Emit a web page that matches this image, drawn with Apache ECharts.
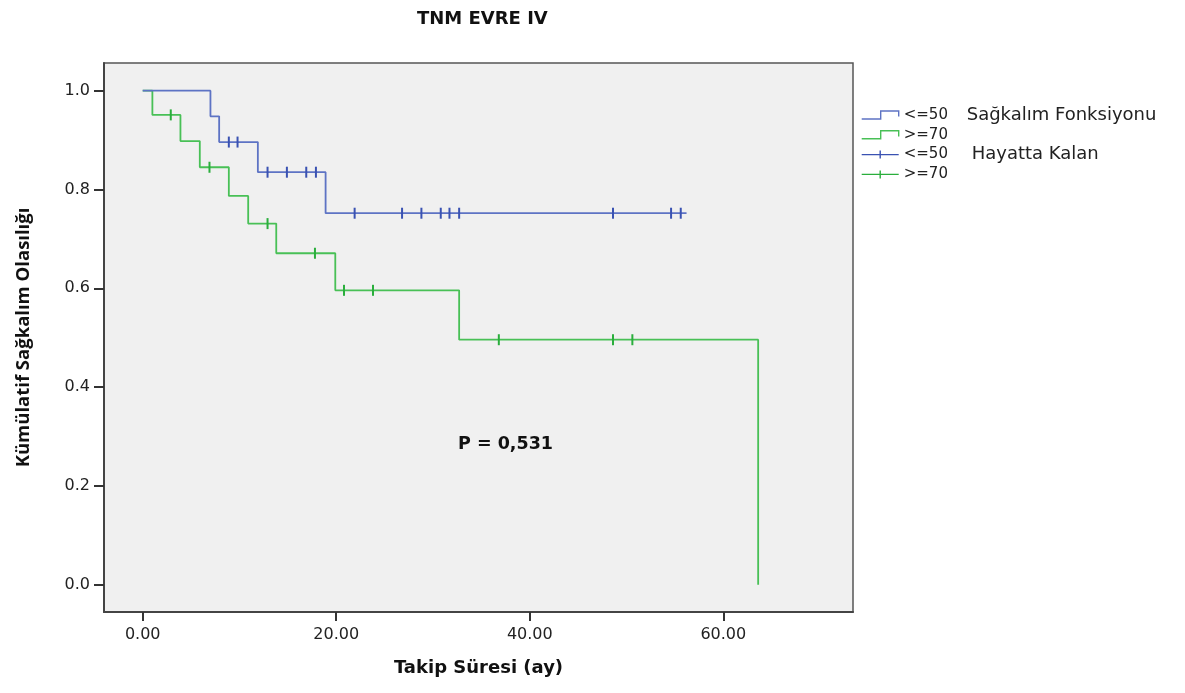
<!DOCTYPE html>
<html>
<head>
<meta charset="utf-8">
<title>TNM EVRE IV</title>
<script src="https://cdn.jsdelivr.net/npm/echarts@6/dist/echarts.min.js"></script>
<style>
  html, body { margin: 0; padding: 0; background: #fff; }
  #chart-container { width: 1185px; height: 693px; }
</style>
</head>
<body>
<div id="chart-container"></div>
<script>
'use strict';

// Kaplan-Meier steps, <=50 group
const blueTimes = [0, 7.0, 7.9, 11.9, 18.9, 56.2];
const blueSurv = [1.0, 0.948, 0.896, 0.835, 0.752, 0.752];
// censored (Hayatta Kalan), <=50 group
const blueCensTimes = [8.9, 9.8, 12.9, 14.9, 16.9, 17.9, 21.9, 26.8, 28.8, 30.8, 31.7, 32.7, 48.6, 54.6, 55.6];
const blueCensSurv = [0.896, 0.896, 0.835, 0.835, 0.835, 0.835, 0.752, 0.752, 0.752, 0.752, 0.752, 0.752, 0.752, 0.752, 0.752];

// Kaplan-Meier steps, >=70 group
const greenTimes = [0, 1.0, 3.9, 5.9, 8.9, 10.9, 13.8, 19.9, 32.7, 63.6];
const greenSurv = [1.0, 0.951, 0.898, 0.845, 0.787, 0.731, 0.671, 0.596, 0.496, 0.0];
// censored, >=70 group
const greenCensTimes = [2.9, 6.9, 12.9, 17.8, 20.8, 23.8, 36.8, 48.6, 50.6];
const greenCensSurv = [0.951, 0.845, 0.731, 0.671, 0.596, 0.596, 0.496, 0.496, 0.496];

const xTicks = [0, 20, 40, 60];
const yTicks = [0, 0.2, 0.4, 0.6, 0.8, 1.0];

const BLUE = '#5d73c4';
const BLUE_DARK = '#3a52b2';
const GREEN = '#48c056';
const GREEN_DARK = '#2aae3c';

function pairs(xs, ys) {
    return xs.map((x, i) => [x, ys[i]]);
}

const legendText = {
    f50: '{a|<=50}{b|Sağkalım Fonksiyonu}',
    f70: '{a|>=70}',
    c50: '{a|<=50}{c|Hayatta Kalan}',
    c70: '{a|>=70}'
};

const stepIcon = 'path://M0,20L19,20L19,0L37,0L37,14';
const crossIcon = 'path://M0,10L37,10M18.5,0L18.5,20';

const myChart = echarts.init(document.getElementById('chart-container'), null, { renderer: 'canvas' });

const option = {
    animation: false,
    backgroundColor: '#ffffff',
    title: {
        text: 'TNM EVRE IV',
        left: 412,
        top: 5,
        textStyle: {
            fontFamily: 'DejaVu Sans',
            fontWeight: 'bold',
            fontSize: 18,
            color: '#111'
        }
    },
    grid: {
        left: 104,
        right: 332,
        top: 63,
        bottom: 81,
        show: true,
        backgroundColor: '#f0f0f0',
        borderColor: '#555',
        borderWidth: 1.5,
        outerBoundsMode: 'none'
    },
    legend: {
        orient: 'vertical',
        left: 861,
        top: 106,
        padding: 0,
        itemWidth: 37,
        itemHeight: 8,
        itemGap: 2.8,
        symbolKeepAspect: false,
        selectedMode: false,
        formatter: (name) => legendText[name],
        textStyle: {
            fontFamily: 'DejaVu Sans',
            fontSize: 15,
            lineHeight: 16,
            color: '#222',
            rich: {
                a: { width: 63, fontFamily: 'DejaVu Sans', fontSize: 15, lineHeight: 16, color: '#222' },
                b: { fontFamily: 'DejaVu Sans', fontSize: 18, lineHeight: 16, color: '#222' },
                c: { fontFamily: 'DejaVu Sans', fontSize: 18, lineHeight: 16, color: '#222', padding: [0, 0, 0, 5] }
            }
        },
        data: [
            { name: 'f50', icon: stepIcon, itemStyle: { color: 'rgba(0,0,0,0)', borderColor: BLUE, borderWidth: 1.4 } },
            { name: 'f70', icon: stepIcon, itemStyle: { color: 'rgba(0,0,0,0)', borderColor: GREEN, borderWidth: 1.4 } },
            { name: 'c50', icon: crossIcon, itemStyle: { color: 'rgba(0,0,0,0)', borderColor: BLUE_DARK, borderWidth: 1.4 } },
            { name: 'c70', icon: crossIcon, itemStyle: { color: 'rgba(0,0,0,0)', borderColor: GREEN_DARK, borderWidth: 1.4 } }
        ]
    },
    xAxis: {
        type: 'value',
        min: -4,
        max: 73.4,
        name: 'Takip Süresi (ay)',
        nameLocation: 'middle',
        nameGap: 47,
        nameTextStyle: {
            fontFamily: 'DejaVu Sans',
            fontWeight: 'bold',
            fontSize: 18,
            color: '#111'
        },
        axisLine: { show: true, onZero: false, lineStyle: { color: '#444', width: 2 } },
        axisTick: { show: true, length: 9, customValues: xTicks, lineStyle: { color: '#333', width: 2 } },
        axisLabel: {
            customValues: xTicks,
            margin: 15,
            formatter: (v) => v.toFixed(2),
            fontFamily: 'DejaVu Sans',
            fontSize: 16,
            color: '#222'
        },
        splitLine: { show: false }
    },
    yAxis: {
        type: 'value',
        min: -0.055,
        max: 1.056,
        name: 'Kümülatif Sağkalım Olasılığı',
        nameLocation: 'middle',
        nameGap: 71,
        nameTextStyle: {
            fontFamily: 'Open Sans',
            fontWeight: 'bold',
            fontSize: 18.5,
            color: '#111'
        },
        axisLine: { show: true, onZero: false, lineStyle: { color: '#444', width: 2 } },
        axisTick: { show: true, length: 10, customValues: yTicks, lineStyle: { color: '#333', width: 2 } },
        axisLabel: {
            customValues: yTicks,
            margin: 14,
            formatter: (v) => v.toFixed(1),
            fontFamily: 'DejaVu Sans',
            fontSize: 16,
            color: '#222'
        },
        splitLine: { show: false }
    },
    graphic: [
        {
            type: 'text',
            x: 458,
            y: 444,
            style: {
                text: 'P = 0,531',
                font: 'bold 17.5px "DejaVu Sans"',
                fill: '#111',
                verticalAlign: 'middle'
            }
        }
    ],
    series: [
        {
            name: 'f50',
            type: 'line',
            step: 'end',
            showSymbol: false,
            symbol: 'none',
            data: pairs(blueTimes, blueSurv),
            itemStyle: { color: BLUE },
            lineStyle: { color: BLUE, width: 1.8 },
            z: 3
        },
        {
            name: 'f70',
            type: 'line',
            step: 'end',
            showSymbol: false,
            symbol: 'none',
            data: pairs(greenTimes, greenSurv),
            itemStyle: { color: GREEN },
            lineStyle: { color: GREEN, width: 1.8 },
            z: 2
        },
        {
            name: 'c50',
            type: 'scatter',
            symbol: 'rect',
            symbolSize: [2, 11],
            data: pairs(blueCensTimes, blueCensSurv),
            itemStyle: { color: BLUE_DARK, opacity: 1 },
            z: 4
        },
        {
            name: 'c70',
            type: 'scatter',
            symbol: 'rect',
            symbolSize: [2, 11],
            data: pairs(greenCensTimes, greenCensSurv),
            itemStyle: { color: GREEN_DARK, opacity: 1 },
            z: 4
        }
    ]
};

myChart.setOption(option);
window.addEventListener('resize', myChart.resize);
</script>
</body>
</html>
